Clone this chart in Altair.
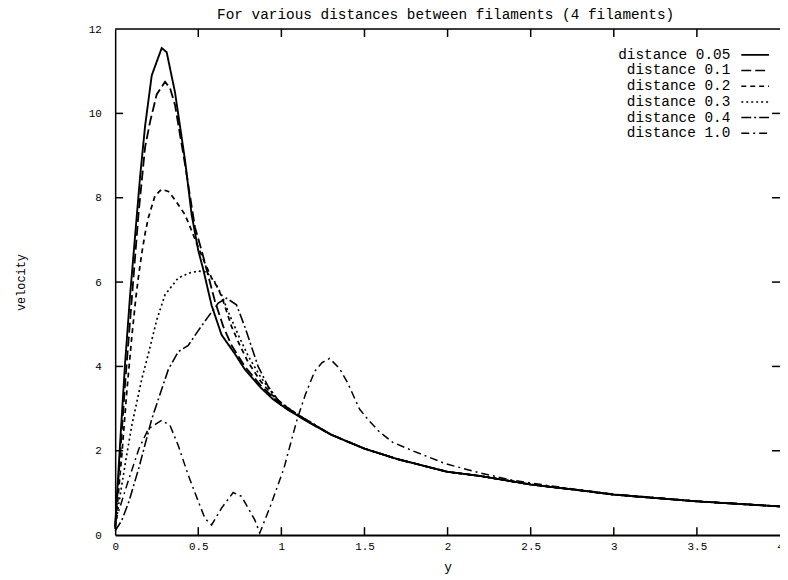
import altair as alt
import pandas as pd

MONO = "Liberation Mono"
W, H = 670, 510

TITLE = "For various distances between filaments (4 filaments)"
SERIES = ["distance 0.05", "distance 0.1", "distance 0.2",
          "distance 0.3", "distance 0.4", "distance 1.0"]
DASHES = [[1, 0], [10, 4], [5, 4], [2, 3], [10, 3, 2, 3], [8, 4, 2, 4]]
WIDTHS = [1.9, 1.5, 1.5, 1.5, 1.5, 1.5]

# shared far-field tail where the curves coincide
TAIL_X = [1.3, 1.5, 1.7, 2.0, 2.2, 2.5, 2.8, 3.0, 3.5, 4.0]
TAIL_V = [2.38, 2.05, 1.8, 1.5, 1.4, 1.2, 1.06, 0.96, 0.8, 0.68]

X_005 = [0, 0.03, 0.06, 0.09, 0.12, 0.15, 0.18, 0.22, 0.28, 0.31, 0.36, 0.42,
         0.46, 0.5, 0.53, 0.58, 0.64, 0.72, 0.78, 0.875, 0.95, 1.04, 1.17]
V_005 = [0.2, 2.2, 4.1, 5.7, 7.1, 8.5, 9.7, 10.9, 11.55, 11.45, 10.5, 8.9,
         7.6, 6.75, 6.3, 5.45, 4.75, 4.3, 3.93, 3.5, 3.22, 2.97, 2.66]

X_01 = [0, 0.03, 0.06, 0.1, 0.14, 0.18, 0.21, 0.25, 0.3, 0.33, 0.36, 0.39,
        0.42, 0.48, 0.52, 0.56, 0.6, 0.65, 0.7, 0.78, 0.875, 1.0, 1.15]
V_01 = [0.2, 1.9, 3.6, 5.6, 7.6, 9.2, 9.8, 10.45, 10.75, 10.6, 10.2, 9.5,
        8.8, 7.3, 6.75, 6.15, 5.55, 4.95, 4.5, 4.0, 3.55, 3.08, 2.72]

X_02 = [0, 0.04, 0.07, 0.1, 0.125, 0.14, 0.16, 0.18, 0.2, 0.24, 0.28, 0.32,
        0.36, 0.42, 0.46, 0.5, 0.54, 0.58, 0.62, 0.65, 0.7, 0.75, 0.8, 0.875,
        0.95, 1.05, 1.17]
V_02 = [0.15, 1.9, 3.4, 4.7, 5.65, 6.12, 6.68, 7.15, 7.53, 8.05, 8.2, 8.15,
        7.95, 7.6, 7.22, 6.82, 6.45, 6.1, 5.85, 5.55, 4.95, 4.5, 4.1, 3.65,
        3.3, 2.98, 2.68]

X_03 = [0, 0.024, 0.065, 0.1, 0.16, 0.2, 0.25, 0.3, 0.38, 0.45, 0.5, 0.55,
        0.6, 0.64, 0.68, 0.74, 0.8, 0.875, 0.976, 1.1, 1.2]
V_03 = [0.15, 0.8, 1.8, 2.6, 3.7, 4.3, 5.1, 5.7, 6.1, 6.22, 6.26, 6.24,
        6.0, 5.7, 5.3, 4.75, 4.25, 3.75, 3.2, 2.85, 2.62]

X_04 = [0, 0.04, 0.083, 0.143, 0.22, 0.28, 0.32, 0.38, 0.44, 0.5, 0.56, 0.62,
        0.67, 0.73, 0.78, 0.82, 0.86, 0.92, 0.99, 1.1, 1.2]
V_04 = [0.1, 0.35, 0.8, 1.6, 2.75, 3.46, 3.93, 4.35, 4.5, 4.85, 5.18, 5.5,
        5.62, 5.46, 4.94, 4.47, 4.0, 3.53, 3.15, 2.85, 2.62]

X_10 = [0, 0.07, 0.143, 0.2, 0.28, 0.33, 0.38, 0.44, 0.5, 0.54, 0.58, 0.64,
        0.71, 0.76, 0.84, 0.87, 0.935, 1.015, 1.095, 1.145, 1.2, 1.245, 1.29,
        1.35, 1.4, 1.47, 1.53, 1.59, 1.67, 1.79, 1.99, 2.19, 2.39, 2.58, 2.8,
        3.0, 3.5, 4.0]
V_10 = [0.3, 1.18, 2.05, 2.52, 2.72, 2.6, 2.12, 1.42, 0.8, 0.4, 0.24, 0.64,
        1.01, 0.92, 0.36, 0.05, 0.7, 1.58, 2.75, 3.34, 3.88, 4.09, 4.19,
        3.95, 3.6, 2.99, 2.7, 2.45, 2.2, 2.0, 1.69, 1.48, 1.3, 1.19, 1.07,
        0.97, 0.81, 0.68]

XS = [X_005 + TAIL_X, X_01 + TAIL_X, X_02 + TAIL_X, X_03 + TAIL_X,
      X_04 + TAIL_X, X_10]
VS = [V_005 + TAIL_V, V_01 + TAIL_V, V_02 + TAIL_V, V_03 + TAIL_V,
      V_04 + TAIL_V, V_10]

X_TICKS = [0, 0.5, 1, 1.5, 2, 2.5, 3, 3.5, 4]
Y_TICKS = [0, 2, 4, 6, 8, 10, 12]

rows = []
for s, xs, vs in zip(SERIES, XS, VS):
    for i, (xv, yv) in enumerate(zip(xs, vs)):
        rows.append({"series": s, "x": xv, "v": yv, "i": i})
df = pd.DataFrame(rows)

xscale = alt.Scale(domain=[0, 4], nice=False, zero=False)
yscale = alt.Scale(domain=[0, 12], nice=False, zero=False)

lines = alt.Chart(df).mark_line(color="black").encode(
    x=alt.X("x:Q", scale=xscale,
            axis=alt.Axis(values=X_TICKS, format="~g", ticks=False, grid=False,
                          domainColor="black", domainWidth=2,
                          labelFont=MONO, labelFontSize=11, labelColor="black",
                          labelPadding=5, labelFlush=False, labelOverlap=False,
                          title="y", titleFont=MONO, titleFontSize=13,
                          titleFontWeight="normal", titleColor="black",
                          titlePadding=10)),
    y=alt.Y("v:Q", scale=yscale,
            axis=alt.Axis(values=Y_TICKS, format="d", ticks=False, grid=False,
                          domainColor="black", domainWidth=1.5,
                          labelFont=MONO, labelFontSize=11, labelColor="black",
                          labelPadding=14, labelOverlap=False,
                          title="velocity", titleFont=MONO, titleFontSize=12,
                          titleFontWeight="normal", titleColor="black",
                          titleX=-95, titleY=H / 2, titleAngle=270,
                          titleAlign="center", titleBaseline="middle")),
    strokeDash=alt.StrokeDash("series:N",
                              scale=alt.Scale(domain=SERIES, range=DASHES),
                              legend=None),
    strokeWidth=alt.StrokeWidth("series:N",
                                scale=alt.Scale(domain=SERIES, range=WIDTHS),
                                legend=None),
    detail="series:N",
    order="i:Q",
)

xt = pd.DataFrame({"xt": X_TICKS[1:-1]})
yt = pd.DataFrame({"yt": Y_TICKS[1:-1]})
TL = 8
bottom_ticks = alt.Chart(xt).mark_rule(color="black", strokeWidth=1.5).encode(
    x=alt.X("xt:Q", scale=xscale), y=alt.value(H), y2=alt.value(H - TL))
top_ticks = alt.Chart(xt).mark_rule(color="black", strokeWidth=1.5).encode(
    x=alt.X("xt:Q", scale=xscale), y=alt.value(0), y2=alt.value(TL))
left_ticks = alt.Chart(yt).mark_rule(color="black", strokeWidth=1.5).encode(
    y=alt.Y("yt:Q", scale=yscale), x=alt.value(0), x2=alt.value(TL))
right_ticks = alt.Chart(yt).mark_rule(color="black", strokeWidth=1.5).encode(
    y=alt.Y("yt:Q", scale=yscale), x=alt.value(W), x2=alt.value(W - TL))

one = pd.DataFrame({"a": [0]})
top_border = alt.Chart(one).mark_rule(color="black", strokeWidth=1.5).encode(
    x=alt.value(0), x2=alt.value(W), y=alt.value(0))

title_mark = alt.Chart(one).mark_text(
    align="center", baseline="alphabetic", font=MONO, fontSize=14.5,
    color="black").encode(x=alt.value(W / 2 - 2), y=alt.value(-10),
                          text=alt.value(TITLE))

layers = [lines, bottom_ticks, top_ticks, left_ticks, right_ticks, top_border,
          title_mark]

LEG_TEXT_X = 620
LEG_LINE_X1, LEG_LINE_X2 = 631, 659
LEG_Y0, LEG_DY = 26, 15.8
for k, (s, d, w) in enumerate(zip(SERIES, DASHES, WIDTHS)):
    yy = LEG_Y0 + k * LEG_DY
    layers.append(alt.Chart(one).mark_text(
        align="right", baseline="middle", font=MONO, fontSize=14.5,
        color="black").encode(x=alt.value(LEG_TEXT_X), y=alt.value(yy),
                              text=alt.value(s)))
    layers.append(alt.Chart(one).mark_rule(
        color="black", strokeWidth=w, strokeDash=d).encode(
        x=alt.value(LEG_LINE_X1), x2=alt.value(LEG_LINE_X2), y=alt.value(yy)))

chart = alt.layer(*layers).properties(
    width=W, height=H,
    autosize="none",
    padding={"left": 108, "top": 19, "right": 0, "bottom": 40},
).configure_view(stroke=None).configure(background="white")

chart.save("out.html", embed_options={"renderer": "svg", "actions": False})
